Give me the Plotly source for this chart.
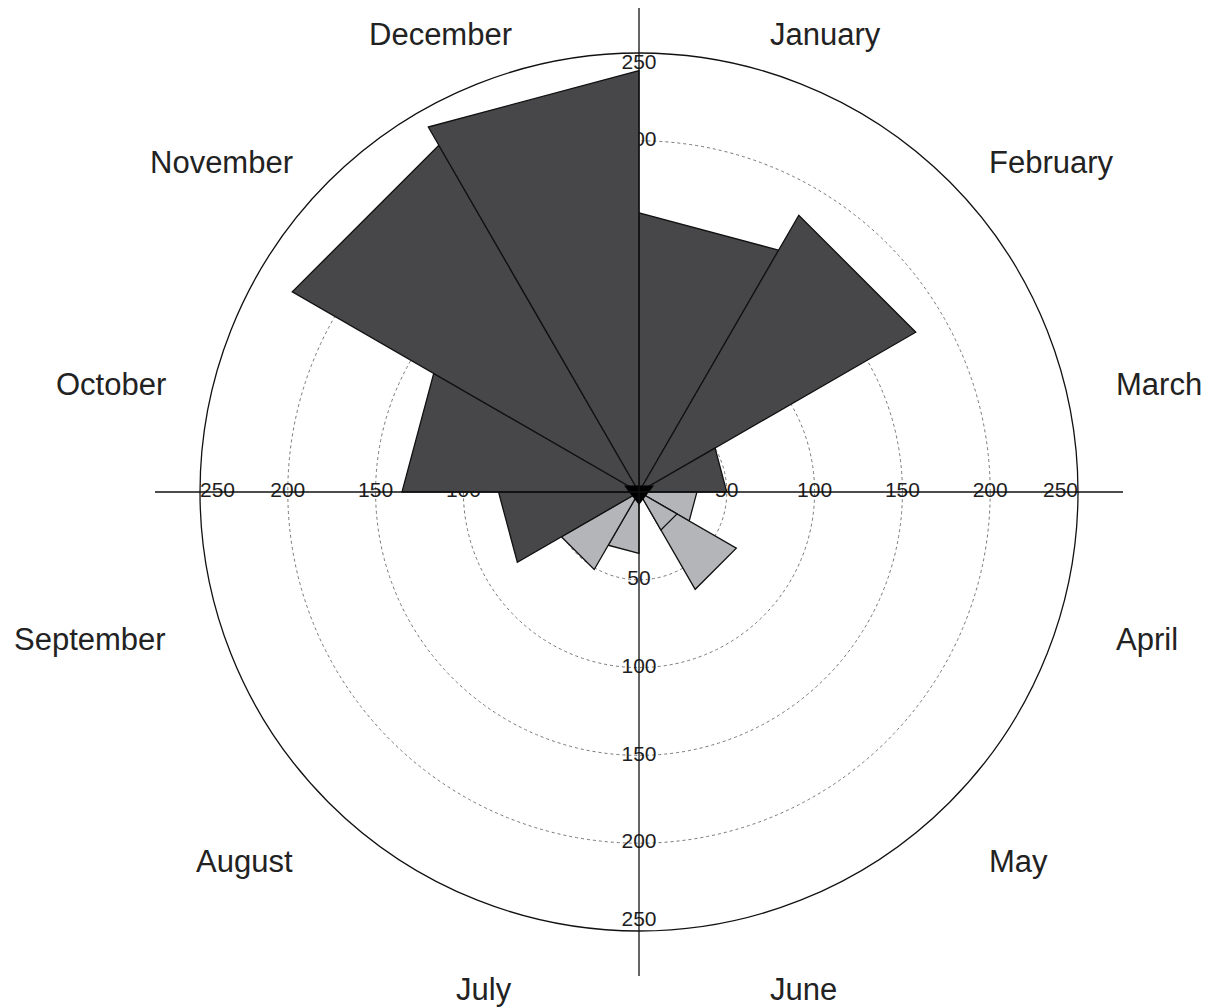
import math
import plotly.graph_objects as go

# ---- data ----
months = ["January", "February", "March", "April", "May", "June",
          "July", "August", "September", "October", "November", "December"]
values = [159, 182, 50, 33, 64, 0, 35, 51, 80, 135, 228, 240]
season = ["dark", "dark", "dark", "light", "light", "light",
          "light", "light", "dark", "dark", "dark", "dark"]
# inner segment visible inside the May wedge
inner_month = "May"
inner_value = 25
tick_values = [50, 100, 150, 200, 250]
tick_labels = ["50", "100", "150", "200", "250"]
axis_dirs = [0, 90, 180, 270]

colors = {"dark": "#474749", "light": "#b4b5b8"}
W, H = 1216, 1008
OFF = 8                      # page body margin
cx, cy, R = 639 - OFF, 492 - OFF, 439   # centre / radius of polar area (figure px)

fig = go.Figure()

# axis tick labels along the four cross-hair directions (drawn under the wedges)
tr, tt, tx, tp = [], [], [], []
pos_in = {0: "bottom center", 90: "middle left", 180: "top center", 270: "middle right"}
for d in axis_dirs:
    for v, lab in zip(tick_values, tick_labels):
        tr.append(v)
        tt.append(d)
        tx.append(lab)
        tp.append(pos_in[d] if v == tick_values[-1] else "middle center")
fig.add_trace(go.Scatterpolar(
    r=tr, theta=tt, text=tx, mode="text", textposition=tp,
    textfont=dict(family="Liberation Sans, Arial", size=21, color="#1e1e1e"),
    showlegend=False, hoverinfo="skip"))

# wedges (straight outer edges)
step = 360 / len(months)
for i, (m, v, s) in enumerate(zip(months, values, season)):
    if v <= 0:
        continue
    a0, a1 = i * step, (i + 1) * step
    fig.add_trace(go.Scatterpolar(
        r=[0, v, v, 0], theta=[a0, a0, a1, a0], mode="lines", fill="toself",
        fillcolor=colors[s], line=dict(color="#111", width=1.3),
        name=m, showlegend=False))
    if m == inner_month:
        fig.add_trace(go.Scatterpolar(
            r=[0, inner_value, inner_value, 0], theta=[a0, a0, a1, a0],
            mode="lines", fill="toself", fillcolor=colors[s],
            line=dict(color="#111", width=1.3), showlegend=False))

# centre marker
fig.add_trace(go.Scatterpolar(
    r=[0], theta=[0], mode="markers",
    marker=dict(symbol="triangle-down", size=26, color="#000"),
    showlegend=False, hoverinfo="skip"))

dx0, dx1 = (cx - R) / W, (cx + R) / W
dy0, dy1 = (H - cy - R) / H, (H - cy + R) / H
fig.update_layout(
    width=W, height=H, margin=dict(l=0, r=0, t=0, b=0),
    paper_bgcolor="white", plot_bgcolor="white",
    polar=dict(
        domain=dict(x=[dx0, dx1], y=[dy0, dy1]),
        bgcolor="white",
        radialaxis=dict(range=[0, 250], tickvals=tick_values[:-1], showticklabels=False,
                        ticks="", showline=False, gridcolor="#777", griddash="dot",
                        gridwidth=1),
        angularaxis=dict(direction="clockwise", rotation=90,
                         showticklabels=False, showgrid=False, ticks="",
                         showline=True, linecolor="#111", linewidth=1.3),
    ),
)

# month labels around the circle, at the middle angle of each sector
lab_rx, lab_ry = 490, 494
for i, m in enumerate(months):
    ang = math.radians(i * step + step / 2)
    px = cx + lab_rx * math.sin(ang) + 2
    py = cy - lab_ry * math.cos(ang) + 20
    fig.add_annotation(
        x=px / W, y=1 - py / H, xref="paper", yref="paper", text=m,
        showarrow=False, xanchor="left" if math.sin(ang) > 0 else "right",
        yanchor="middle",
        font=dict(family="Liberation Sans, Arial", size=31, color="#222"))

# cross-hair lines extending past the outer circle
ext = 45
fig.add_shape(type="line", xref="paper", yref="paper",
              x0=(cx - R - ext) / W, x1=(cx + R + ext) / W,
              y0=(H - cy) / H, y1=(H - cy) / H, line=dict(color="#111", width=1.3))
fig.add_shape(type="line", xref="paper", yref="paper",
              x0=cx / W, x1=cx / W,
              y0=(H - cy - R - ext) / H, y1=(H - cy + R + ext) / H,
              line=dict(color="#111", width=1.3))

fig.write_html("out.html")
